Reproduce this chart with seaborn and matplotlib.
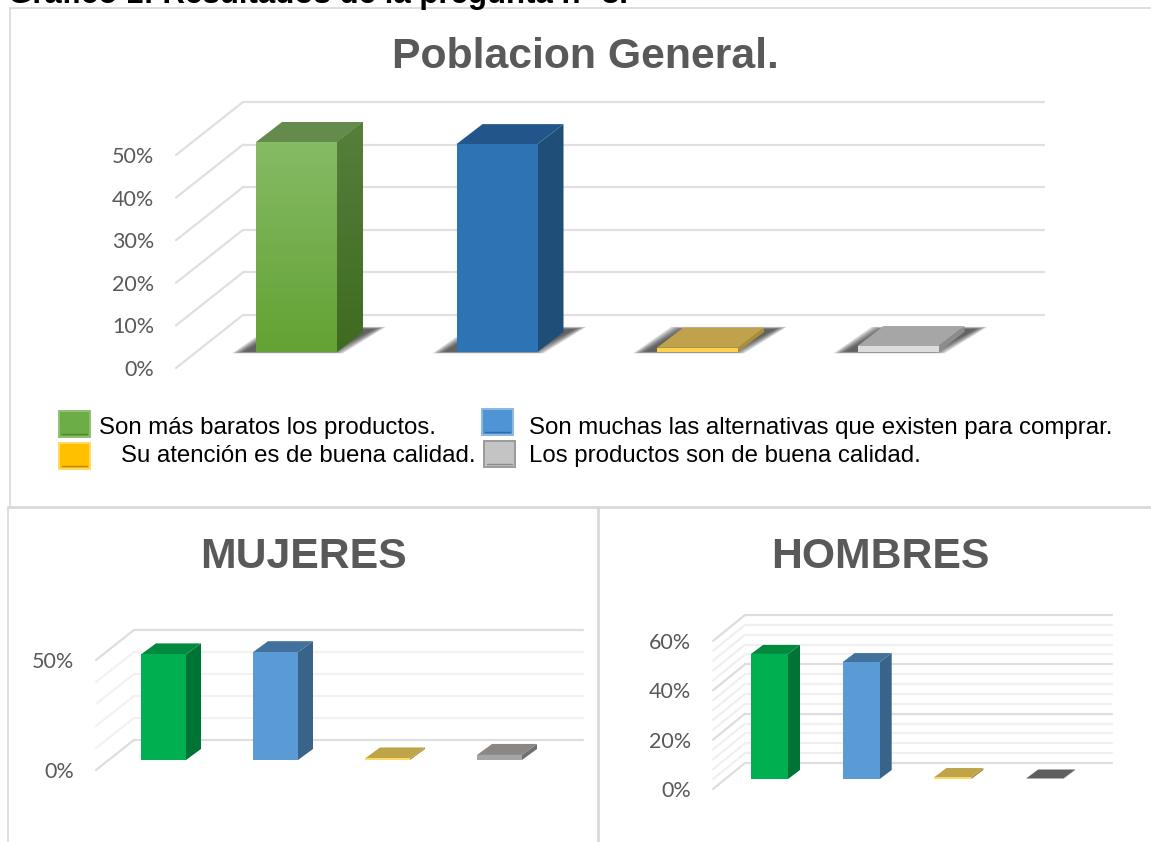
import matplotlib
matplotlib.use("Agg")
import matplotlib.pyplot as plt
from matplotlib.colors import LinearSegmentedColormap
from matplotlib.lines import Line2D
from matplotlib.patches import Polygon, Rectangle
from matplotlib.transforms import Affine2D
import numpy as np
import pandas as pd
import seaborn as sns

W, H = 1151, 842

# data
categories = ["Son más baratos", "Son muchas alternativas", "Su atención", "Los productos"]
general_values = [49.3, 48.8, 1.0, 1.4]
mujeres_values = [48.0, 49.0, 0.7, 2.3]
hombres_values = [50.7, 47.4, 0.8, 0.2]
general_ticks = [0, 10, 20, 30, 40, 50]
mujeres_ticks = [0, 50]
hombres_ticks = [0, 20, 40, 60]

legend_left = ["Son más baratos los productos.", "Su atención es de buena calidad."]
legend_right = ["Son muchas las alternativas que existen para comprar.",
                "Los productos son de buena calidad."]

# colours per bar: front, side, top
general_colors = [("#6DAD45", "#4A7530", "#648A4C"), ("#2E74B5", "#1F4E79", "#22568A"),
                  ("#FFD24D", "#A98F3A", "#BFA24B"), ("#DCDCDC", "#8C8C8C", "#A6A6A6")]
mujeres_colors = [("#00B050", "#007434", "#008A3E"), ("#5B9BD5", "#3A6389", "#41719C"),
                  ("#FFD966", "#A88F3E", "#C0A44A"), ("#A5A5A5", "#6F6F6F", "#8A8785")]
hombres_colors = [("#00B050", "#007434", "#008A3E"), ("#5B9BD5", "#3A6389", "#41719C"),
                  ("#FFD966", "#A88F3E", "#C0A44A"), ("#7F7F7F", "#555555", "#5F5F5F")]

sns.set_theme(style="white")
plt.rcParams["font.family"] = ["Liberation Sans", "DejaVu Sans"]

fig = plt.figure(figsize=(W / 100, H / 100), dpi=100, facecolor="white")


def fig_line(xs, ys, color="#D9D9D9", lw=1.0):
    fig.add_artist(Line2D([x / W for x in xs], [1 - y / H for y in ys], color=color, lw=lw))


def gradient_face(ax, points, top_color, bottom_color, zorder):
    # vertical gradient painted inside a polygon given in pixels
    face = Polygon(points, closed=True, facecolor="none", edgecolor="none", transform=Affine2D())
    ax.add_patch(face)
    xs = [p[0] for p in points]
    ys = [p[1] for p in points]
    cmap = LinearSegmentedColormap.from_list("face", [bottom_color, top_color])
    im = ax.imshow(np.linspace(1, 0, 64).reshape(-1, 1), cmap=cmap, aspect="auto", zorder=zorder,
                   extent=[min(xs), max(xs), min(ys), max(ys)], transform=Affine2D())
    im.set_clip_box(fig.bbox)
    im.set_clip_path(face)


def chart(values, colors, ticks, wall, back, bar_dx, bar_dy, center0, spacing, bar_w,
          floor_up, top_value, tick_pad, minor=None, major_color="#E0E0E0", minor_color="#F2F2F2",
          shadow=False, green_gradient=False):
    # wall = (left, bottom of the front plane, right end of the back wall, top of the front plane) in px
    left, y0, right, y_top = wall
    ax = fig.add_axes([left / W, 1 - y0 / H, (right - left) / W, (y0 - y_top) / H])
    df = pd.DataFrame({"cat": categories, "value": values})
    sns.barplot(data=df, x="cat", y="value", hue="cat", palette=[c[0] for c in colors],
                legend=False, ax=ax, width=bar_w / spacing, saturation=1)
    ax.set_xlim((left - center0) / spacing, (right - center0) / spacing)
    ax.set_ylim(0, top_value)
    ax.set_autoscale_on(False)
    ax.set_xlabel("")
    ax.set_ylabel("")
    ax.set_xticks([])
    ax.set_yticks(ticks)
    ax.set_yticklabels([f"{t}%" for t in ticks], family="Lato", fontsize=15.5, color="#595959")
    ax.tick_params(axis="y", length=0, pad=tick_pad)
    ax.patch.set_visible(False)
    sns.despine(ax=ax, left=True, bottom=True, top=True, right=True)

    px_per_unit = (y0 - y_top) / top_value
    dx, dy = back
    bar_shift = Affine2D().translate(0, floor_up)

    # walls: gridlines at the back, diagonals on the left
    levels = list(minor) if minor is not None else list(ticks)
    for level in levels:
        color = major_color if level in ticks else minor_color
        ax.plot([(left + dx - center0) / spacing, (right - center0) / spacing], [level, level],
                color=color, lw=1.6, transform=ax.transData + Affine2D().translate(0, dy),
                clip_on=False, zorder=0.5)
        yp = level * px_per_unit
        ax.add_line(Line2D([0, dx], [yp, yp + dy], color=color, lw=1.6,
                           transform=Affine2D().translate(left, H - y0), clip_on=False, zorder=0.5))

    # depth faces worked out from each seaborn bar
    for i, (bar, cols) in enumerate(zip(list(ax.patches), colors)):
        bar.set_transform(ax.transData + bar_shift)
        bar.set_clip_on(False)
        bar.set_zorder(3)
        bar.set_linewidth(0)
        x0 = ax.transData.transform((bar.get_x(), 0))[0]
        x1 = ax.transData.transform((bar.get_x() + bar.get_width(), 0))[0]
        base = H - y0 + floor_up
        top = base + bar.get_height() * px_per_unit
        front = [(x0, base), (x1, base), (x1, top), (x0, top)]
        side = [(x1, base), (x1 + bar_dx, base + bar_dy), (x1 + bar_dx, top + bar_dy), (x1, top)]
        lid = [(x0, top), (x1, top), (x1 + bar_dx, top + bar_dy), (x0 + bar_dx, top + bar_dy)]
        if shadow:
            # soft edge from a few stacked see-through polygons
            for grow in [6, 4.5, 3, 1.5, 0, -1.5, -3, -4.5, -6]:
                sh = [(x0 - 18 - grow, base - 0.5 - grow * 0.15), (x1 + grow, base - 0.5 - grow * 0.15),
                      (x1 + 43 + grow, base + 24 + grow * 0.2), (x0 + 20 - grow, base + 24 + grow * 0.2)]
                ax.add_patch(Polygon(sh, closed=True, facecolor="#303030", edgecolor="none", alpha=0.14,
                                     transform=Affine2D(), clip_on=False, zorder=1))
        ax.add_patch(Polygon(side, closed=True, facecolor=cols[1], edgecolor="none",
                             transform=Affine2D(), clip_on=False, zorder=2))
        ax.add_patch(Polygon(lid, closed=True, facecolor=cols[2], edgecolor="none",
                             transform=Affine2D(), clip_on=False, zorder=2))
        if green_gradient and i == 0:
            gradient_face(ax, front, "#85BB65", "#63A234", 4)
            gradient_face(ax, side, "#567F3B", "#3F6B20", 4)
    return ax


chart(general_values, general_colors, general_ticks, (176, 368, 1044, 155), (67, 53), 26, 20,
      296.5, 200.5, 81, 16, 50, 15.5, shadow=True, green_gradient=True)
chart(mujeres_values, mujeres_colors, mujeres_ticks, (96, 770, 583, 660), (38, 30), 15, 11,
      163.5, 112, 45, 10, 50, 15.5, minor=[0, 10, 20, 30, 40, 50], major_color="#DEDEDE")
chart(hombres_values, hombres_colors, hombres_ticks, (713, 789, 1112, 641), (32, 26), 12, 9,
      769.5, 91.7, 37, 10, 60, 15.5, minor=list(range(0, 61, 4)), major_color="#DEDEDE",
      minor_color="#F0F0F0")

# panel frames
fig_line([10, 10], [8, 507], lw=1.2)
fig_line([10, 1151], [8, 8], lw=1.2)
fig_line([8, 1151], [507.5, 507.5], lw=2.0)
fig_line([8, 8], [507, 842], lw=1.2)
fig_line([598, 598], [507, 842], lw=2.0)

# heading, cut by the top edge like the scan
fig.text(8 / W, 1 - 2.5 / H, "Gráfico 1: Resultados de la pregunta n° 8.", fontsize=22.5, fontweight="bold",
         color="black", va="baseline", ha="left")

fig.text(585 / W, 1 - 68 / H, "Poblacion General.", fontsize=30.8, fontweight="bold", color="#595959",
         ha="center", va="baseline")
fig.text(303.5 / W, 1 - 568 / H, "MUJERES", fontsize=30.8, fontweight="bold", color="#595959",
         ha="center", va="baseline")
fig.text(880 / W, 1 - 568 / H, "HOMBRES", fontsize=30.8, fontweight="bold", color="#595959",
         ha="center", va="baseline")

# legend drawn by hand because its columns do not line up in the original
swatches = [(59, 411, "#6DAD45", "#8FBF73", "#4F8A2C"), (482, 409, "#4F94D4", "#8DB8E2", "#2E6DA8"),
            (59, 443, "#FFC000", "#FFD966", "#B98C00"), (484, 441, "#C4C4C4", "#9A9A9A", "#8C8C8C")]
for x, y, face, edge, inner in swatches:
    fig.add_artist(Rectangle((x / W, 1 - (y + 26) / H), 31 / W, 26 / H, transform=fig.transFigure,
                             facecolor=face, edgecolor=edge, lw=1.4))
    fig_line([x + 3, x + 28], [y + 23, y + 23], color=inner, lw=1.0)
fig.text(99 / W, 1 - 434 / H, legend_left[0], fontsize=17.25, color="black", va="baseline")
fig.text(121 / W, 1 - 462 / H, legend_left[1], fontsize=17.25, color="black", va="baseline")
fig.text(529 / W, 1 - 434 / H, legend_right[0], fontsize=17.25, color="black", va="baseline")
fig.text(529 / W, 1 - 462 / H, legend_right[1], fontsize=17.25, color="black", va="baseline")

fig.savefig("out.png", dpi=100)
